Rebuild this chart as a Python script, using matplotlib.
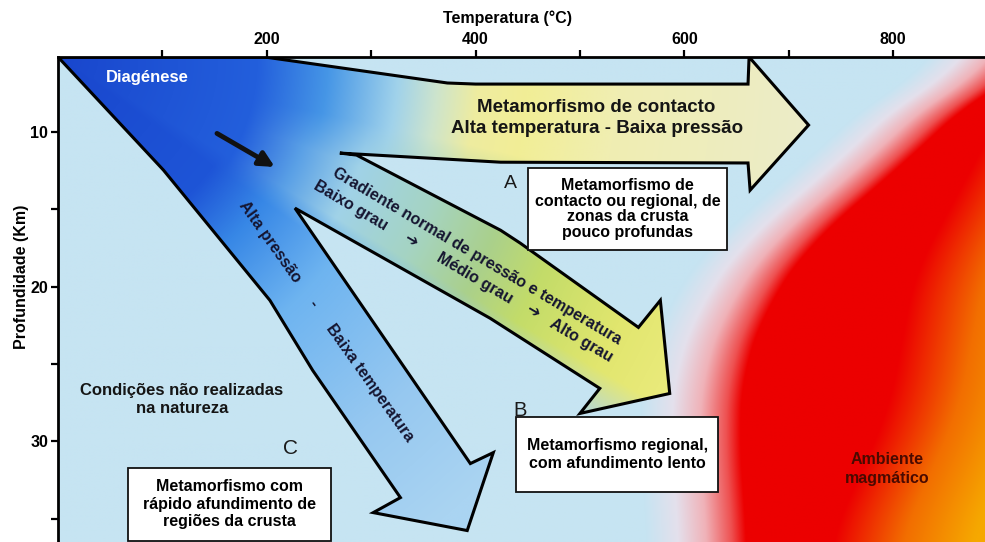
import numpy as np
import matplotlib
matplotlib.use('Agg')
import matplotlib.pyplot as plt
from matplotlib.patches import Polygon, Rectangle

plt.rcParams['font.family'] = ['Liberation Sans', 'DejaVu Sans']

# axis ranges: temperature (°C) and depth (km)
t_max = 888
d_top, d_bottom = 5.15, 36.5

x_ticks = [100, 200, 300, 400, 500, 600, 700, 800]
x_ticklabels = ['', '200', '', '400', '', '600', '', '800']
y_ticks = [10, 15, 20, 25, 30, 35]
y_ticklabels = ['10', '', '20', '', '30', '']

# outline of the fan of arrows (temperature, depth)
fan_t = [0, 198, 373, 400, 661, 662, 719, 663, 661, 424, 270, 286,
         424, 443, 556, 577, 586, 500, 519, 414, 227,
         395, 417, 392, 302, 328, 244, 203, 101]
fan_d = [5.15, 5.15, 6.83, 6.9, 6.9, 5.15, 9.55, 13.76, 12.0, 11.95, 11.36, 11.49,
         16.35, 17.19, 22.63, 20.88, 26.9, 28.19, 26.57, 22.04, 14.92,
         31.43, 30.72, 35.76, 34.6, 33.63, 25.41, 20.88, 12.46]

# temperature where the magmatic (red) zone starts, by depth
magma_depth = [5.15, 7.3, 12.66, 17.0, 21.3, 25.6, 29.9, 36.5]
magma_temp = [950, 885, 800, 723, 679, 656, 653, 660]
# temperature where red turns orange, by depth
orange_depth = [5.15, 19.1, 27.8, 36.5]
orange_temp = [1000, 888, 864, 807]

# label boxes: (t0, t1, d0, d1)
box_a = (450.3, 641.0, 12.33, 17.64)
box_b = (438.8, 632.4, 28.45, 33.24)
box_c = (67.1, 261.6, 31.69, 36.41)

text_a = 'Metamorfismo de\ncontacto ou regional, de\nzonas da crusta\npouco profundas'
text_b = 'Metamorfismo regional,\ncom afundimento lento'
text_c = 'Metamorfismo com\nrápido afundimento de\nregiões da crusta'

# pixels per unit, to get round distances on the picture
sx, sy = 1.0437, 15.45


def ramp(v, stops, colors):
    colors = np.array(colors, dtype=float) / 255
    out = np.empty(v.shape + (3,))
    for k in range(3):
        out[..., k] = np.interp(v, stops, colors[:, k])
    return out


def smooth(v, n):
    pad = np.concatenate([np.full(n, v[0]), v, np.full(n, v[-1])])
    return np.convolve(pad, np.ones(2 * n + 1) / (2 * n + 1), mode='same')[n:-n]


nt, nd = 930, 490
tt = np.linspace(0, t_max, nt)
dd = np.linspace(d_top, d_bottom, nd)
T, D = np.meshgrid(tt, dd)
X = T * sx
Y = (D - d_top) * sy

# background + magma zone (edges smoothed along depth)
red_edge = smooth(np.interp(dd, magma_depth, magma_temp), 40)[:, None] * sx
orange_edge = smooth(np.interp(dd, orange_depth, orange_temp), 40)[:, None] * sx
bg = (198, 228, 242)
s = X - red_edge
o = X - orange_edge
c1 = ramp(s, [-100, -68, -40, -14, 0],
          [bg, (228, 224, 236), (240, 178, 184), (238, 80, 80), (236, 0, 0)])
c2 = ramp(o, [-70, 0, 70], [(236, 0, 0), (242, 110, 0), (246, 168, 0)])
field = np.where((s < 0)[..., None], c1, c2)

# fan colours: ramps along the distance from the top-left corner
r = np.hypot(X, Y)
th = np.degrees(np.arctan2(Y, X))
c_contact = ramp(r, [0, 200, 270, 340, 380, 420, 470, 560, 750],
                 [(25, 70, 205), (35, 95, 220), (70, 150, 230), (160, 210, 235),
                  (205, 228, 205), (238, 236, 160), (242, 238, 150),
                  (240, 238, 178), (236, 236, 200)])
c_grad = ramp(r, [0, 200, 260, 320, 400, 470, 530, 620, 700],
              [(25, 70, 205), (35, 95, 220), (90, 160, 230), (160, 210, 232),
               (165, 212, 195), (170, 208, 140), (195, 220, 105),
               (225, 230, 110), (235, 235, 125)])
c_alta = ramp(r, [0, 190, 250, 340, 480, 600],
              [(25, 70, 205), (30, 85, 215), (55, 135, 230), (110, 180, 240),
               (150, 200, 240), (170, 212, 242)])
w_c = np.clip((20 - th) / 8, 0, 1)[..., None]
w_a = np.clip((th - 30) / 5, 0, 1)[..., None]
w_g = np.clip(1 - w_c - w_a, 0, 1)
fan_field = w_c * c_contact + w_g * c_grad + w_a * c_alta

fig = plt.figure(figsize=(9.85, 5.42), dpi=100)
ax = fig.add_axes([58 / 985, 0, 927 / 985, 485 / 542])
ext = [0, t_max, d_bottom, d_top]
ax.imshow(field, extent=ext, aspect='auto', origin='upper',
          interpolation='bilinear', zorder=0)

fan_xy = np.column_stack([fan_t, fan_d])
clip = Polygon(fan_xy, closed=True, facecolor='none', edgecolor='none')
ax.add_patch(clip)
im = ax.imshow(fan_field, extent=ext, aspect='auto', origin='upper',
               interpolation='bilinear', zorder=1)
im.set_clip_path(clip)
ax.add_patch(Polygon(fan_xy, closed=True, fill=False, edgecolor='black',
                     linewidth=2.2, joinstyle='miter', zorder=2))

for (t0, t1, d0, d1), txt, fs, ls in [(box_a, text_a, 11.5, 1.05),
                                      (box_b, text_b, 11.5, 1.2),
                                      (box_c, text_c, 11.5, 1.2)]:
    ax.add_patch(Rectangle((t0, d0), t1 - t0, d1 - d0, facecolor='white',
                           edgecolor='#111111', linewidth=1.3, zorder=3))
    ax.text((t0 + t1) / 2, (d0 + d1) / 2, txt, ha='center', va='center',
            fontsize=fs, fontweight='bold', linespacing=ls, zorder=4)

ax.text(86, 6.5, 'Diagénese', color='white', fontsize=12, fontweight='bold',
        ha='center', va='center', zorder=4)
ax.annotate('', xy=(210, 12.35), xytext=(150, 10.0),
            arrowprops=dict(arrowstyle='-|>,head_length=0.9,head_width=0.45',
                            color='#111111', lw=3.5), zorder=4)

ax.text(516, 9.1, 'Metamorfismo de contacto\nAlta temperatura - Baixa pressão',
        ha='center', va='center', fontsize=13.5, fontweight='bold',
        linespacing=1.25, color='#151515', zorder=4)

grad_rot = -30.6
ax.text(401, 18.03, 'Gradiente normal de pressão e temperatura', rotation=grad_rot,
        rotation_mode='anchor', ha='center', va='center', fontsize=11.5,
        fontweight='bold', color='#151530', zorder=4)
for t, d, txt in [(280.7, 14.73, 'Baixo grau'), (337.3, 17.0, '➔'),
                  (399.5, 19.45, 'Médio grau'), (454.2, 21.59, '➔'),
                  (501.1, 23.47, 'Alto grau')]:
    ax.text(t, d, txt, rotation=grad_rot, rotation_mode='anchor', ha='center',
            va='center', fontsize=11.5, fontweight='bold', color='#151530', zorder=4)

alta_rot = -54.6
for t, d, txt in [(203.1, 17.12, 'Alta pressão'), (244.3, 21.07, '-'),
                  (298.9, 26.19, 'Baixa temperatura')]:
    ax.text(t, d, txt, rotation=alta_rot, rotation_mode='anchor', ha='center',
            va='center', fontsize=11.5, fontweight='bold', color='#151530', zorder=4)

ax.text(118.8, 27.3, 'Condições não realizadas\nna natureza', ha='center',
        va='center', fontsize=12, fontweight='bold', linespacing=1.2,
        color='#151515', zorder=4)

for t, d, txt, fs in [(433.1, 13.31, 'A', 14), (443.0, 28.0, 'B', 14.5),
                      (222.3, 30.46, 'C', 15)]:
    ax.text(t, d, txt, ha='center', va='center', fontsize=fs, color='#1a1a1a',
            zorder=4)

ax.text(794, 31.8, 'Ambiente\nmagmático', ha='center', va='center', fontsize=11.5,
        fontweight='bold', color='#4a0a00', linespacing=1.3, zorder=4)

ax.set_xlim(0, t_max)
ax.set_ylim(d_bottom, d_top)
ax.xaxis.tick_top()
ax.xaxis.set_label_position('top')
ax.spines['right'].set_visible(False)
ax.spines['bottom'].set_visible(False)
for side in ['left', 'top']:
    ax.spines[side].set_linewidth(2)
    ax.spines[side].set_zorder(5)
ax.set_xticks(x_ticks)
ax.set_xticklabels(x_ticklabels, fontweight='bold')
ax.set_yticks(y_ticks)
ax.set_yticklabels(y_ticklabels, fontweight='bold')
ax.tick_params(axis='both', direction='out', length=5, width=1.6,
               labelsize=11.5, pad=2)

ax.set_xlabel('Temperatura (°C)', fontsize=11.5, fontweight='bold')
ax.xaxis.set_label_coords(0.485, 1 + 39 / 485)
ax.xaxis.label.set_verticalalignment('center')
ax.set_ylabel('Profundidade (Km)', fontsize=11.5, fontweight='bold')
ax.yaxis.set_label_coords(-36 / 927, (542 - 277) / 485)
ax.yaxis.label.set_verticalalignment('center')

fig.savefig('out.png', dpi=100)
